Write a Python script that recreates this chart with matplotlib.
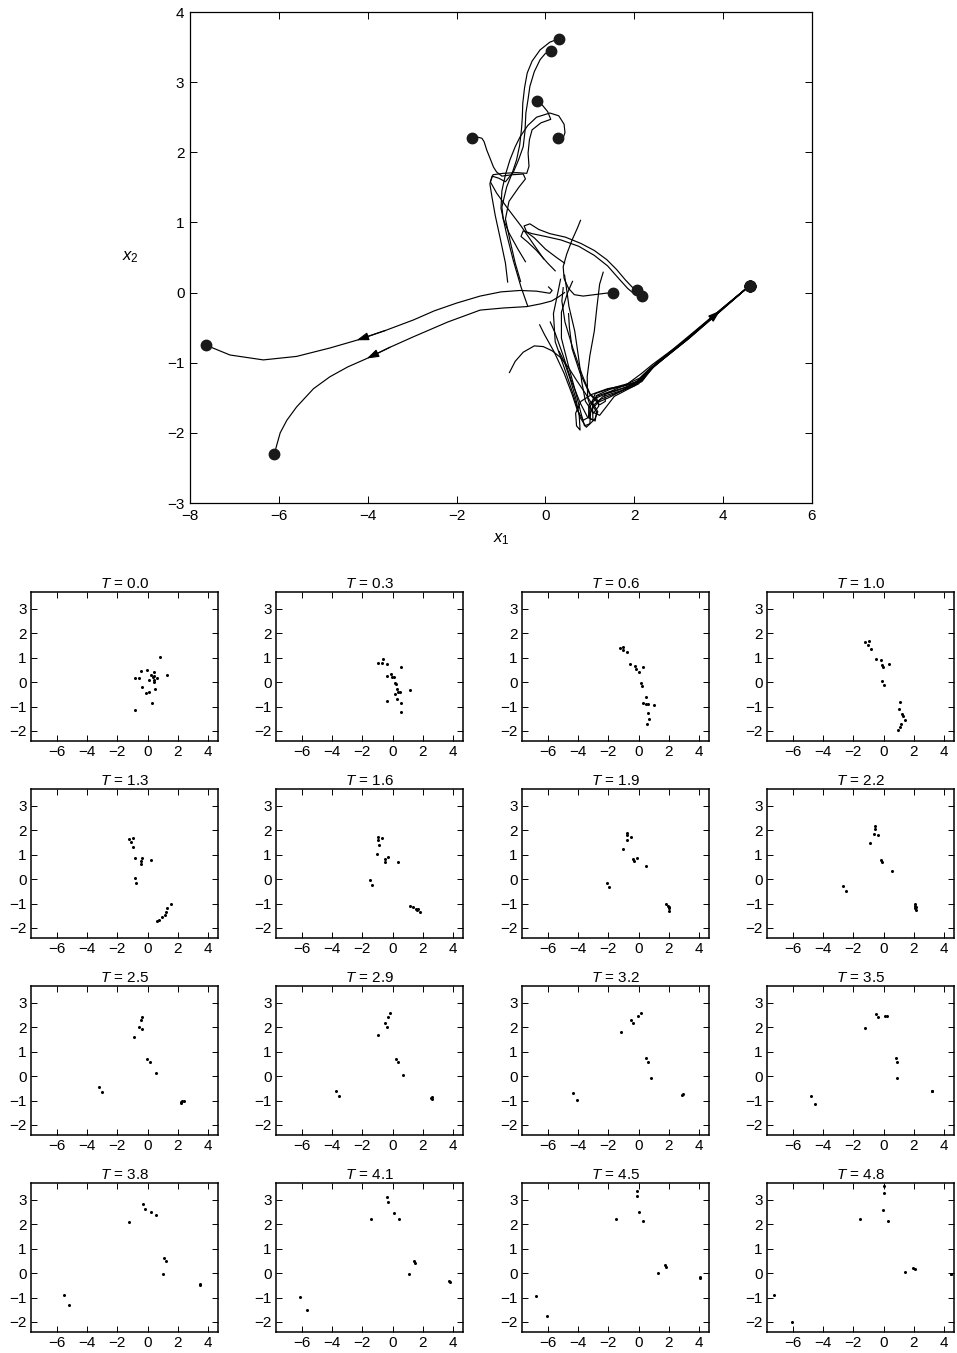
import matplotlib
matplotlib.use("Agg")
import matplotlib.pyplot as plt

plt.rcParams['font.family'] = ['Liberation Sans', 'DejaVu Sans']
plt.rcParams['mathtext.fontset'] = 'custom'
plt.rcParams['mathtext.rm'] = 'Liberation Sans'
plt.rcParams['mathtext.it'] = 'Liberation Sans:italic'

# ---- trajectories of the 20 particles (top plot), start -> end ----
path_left_a = [(0.07, 0.08), (0.15, 0.03), (0.1, -0.01), (-0.2, 0.02), (-0.57, 0.03), (-1.0, 0.01),
               (-1.47, -0.05), (-2.0, -0.15), (-2.5, -0.26), (-2.97, -0.39), (-3.6, -0.54), (-4.25, -0.68),
               (-4.85, -0.79), (-5.6, -0.91), (-6.35, -0.96), (-7.1, -0.89), (-7.64, -0.75)]
path_left_b = [(0.43, 0.0), (0.3, -0.06), (0.14, -0.12), (-0.1, -0.16), (-0.42, -0.2), (-0.95, -0.22),
               (-1.47, -0.25), (-2.2, -0.42), (-2.97, -0.63), (-3.5, -0.78), (-4.02, -0.94), (-4.45, -1.06),
               (-4.85, -1.2), (-5.22, -1.37), (-5.6, -1.63), (-5.82, -1.82), (-5.97, -2.0), (-6.05, -2.18),
               (-6.1, -2.3)]
path_up_a = [(-0.45, 0.44), (-0.62, 0.62), (-0.82, 0.85), (-0.95, 1.05), (-0.98, 1.22), (-0.92, 1.38),
             (-0.87, 1.51), (-0.75, 1.7), (-0.65, 1.89), (-0.58, 2.1), (-0.54, 2.32), (-0.52, 2.5),
             (-0.51, 2.7), (-0.47, 2.92), (-0.41, 3.13), (-0.3, 3.3), (-0.12, 3.46), (0.1, 3.57), (0.31, 3.62)]
path_up_b = [(-0.85, 0.15), (-0.9, 0.42), (-1.02, 0.78), (-1.13, 1.1), (-1.2, 1.35), (-1.25, 1.55),
             (-1.2, 1.66), (-1.05, 1.63), (-0.9, 1.58), (-0.72, 1.72), (-0.6, 1.9), (-0.5, 2.08),
             (-0.46, 2.3), (-0.44, 2.56), (-0.39, 2.76), (-0.35, 2.94), (-0.25, 3.15), (-0.12, 3.32),
             (0.0, 3.41), (0.13, 3.45)]
path_up_c = [(-0.04, 0.48), (-0.28, 0.7), (-0.55, 0.95), (-0.85, 1.2), (-1.1, 1.42), (-1.24, 1.58),
             (-1.18, 1.68), (-0.95, 1.7), (-0.65, 1.71), (-0.42, 1.7), (-0.37, 1.8), (-0.39, 1.99),
             (-0.36, 2.18), (-0.3, 2.32), (-0.1, 2.42), (0.12, 2.47), (0.05, 2.58), (-0.08, 2.68), (-0.2, 2.73)]
path_up_d = [(-0.4, -0.19), (-0.55, 0.08), (-0.72, 0.45), (-0.88, 0.85), (-1.0, 1.2), (-0.98, 1.45),
             (-0.9, 1.68), (-0.8, 1.89), (-0.68, 2.08), (-0.57, 2.22), (-0.4, 2.38), (-0.2, 2.5),
             (0.1, 2.56), (0.3, 2.52), (0.42, 2.4), (0.44, 2.28), (0.38, 2.17), (0.28, 2.21)]
path_up_e = [(-0.56, 0.16), (-0.68, 0.42), (-0.8, 0.75), (-0.9, 1.05), (-0.82, 1.3), (-0.6, 1.5),
             (-0.45, 1.62), (-0.5, 1.69), (-0.75, 1.68), (-0.98, 1.66), (-1.1, 1.72), (-1.17, 1.79),
             (-1.25, 1.92), (-1.32, 2.03), (-1.38, 2.15), (-1.43, 2.2), (-1.55, 2.22), (-1.66, 2.21)]
path_mid_a = [(0.79, 1.03), (0.72, 0.92), (0.6, 0.75), (0.48, 0.55), (0.4, 0.37), (0.42, 0.2), (0.52, 0.06),
              (0.65, -0.03), (0.85, -0.05), (1.1, -0.03), (1.35, -0.01), (1.53, 0.0)]
path_mid_b = [(0.43, 0.42), (0.25, 0.5), (0.0, 0.62), (-0.25, 0.78), (-0.42, 0.86), (-0.48, 0.95),
              (-0.35, 0.98), (-0.15, 0.9), (0.1, 0.84), (0.45, 0.79), (0.8, 0.7), (1.1, 0.6), (1.38, 0.47),
              (1.6, 0.33), (1.8, 0.18), (1.95, 0.08), (2.05, 0.04)]
path_mid_c = [(0.22, 0.31), (0.05, 0.42), (-0.2, 0.6), (-0.4, 0.72), (-0.55, 0.8), (-0.5, 0.88),
              (-0.3, 0.84), (0.0, 0.8), (0.35, 0.75), (0.75, 0.66), (1.1, 0.53), (1.4, 0.38), (1.65, 0.2),
              (1.85, 0.06), (2.0, -0.02), (2.17, -0.05)]
path_low_a = [(-0.81, -1.14), (-0.68, -0.98), (-0.5, -0.85), (-0.25, -0.76), (-0.05, -0.77), (0.15, -0.83),
              (0.33, -0.92), (0.52, -1.07), (0.7, -1.25), (0.88, -1.42), (1.02, -1.56), (1.15, -1.7),
              (1.12, -1.83), (1.0, -1.8), (0.98, -1.64), (1.15, -1.5), (1.45, -1.42), (1.8, -1.35),
              (2.05, -1.28), (2.2, -1.2), (2.5, -1.02), (3.2, -0.67), (3.93, -0.27), (4.6, 0.1)]
path_low_b = [(0.31, -0.84), (0.42, -0.98), (0.55, -1.22), (0.68, -1.5), (0.76, -1.75), (0.78, -1.96),
              (0.7, -1.9), (0.68, -1.72), (0.8, -1.55), (1.05, -1.45), (1.4, -1.37), (1.75, -1.33),
              (2.05, -1.27), (2.18, -1.22), (2.45, -1.05), (3.2, -0.66), (3.93, -0.26), (4.6, 0.1)]
path_low_c = [(-0.13, -0.46), (-0.02, -0.6), (0.2, -0.85), (0.42, -1.15), (0.6, -1.45), (0.72, -1.68),
              (0.85, -1.82), (0.97, -1.78), (0.98, -1.6), (1.15, -1.48), (1.5, -1.4), (1.85, -1.3),
              (2.12, -1.22), (2.35, -1.08), (3.0, -0.76), (3.93, -0.26), (4.6, 0.1)]
path_low_d = [(0.11, -0.42), (0.22, -0.58), (0.4, -0.9), (0.58, -1.25), (0.78, -1.57), (0.95, -1.78),
              (1.1, -1.82), (1.18, -1.7), (1.05, -1.56), (1.12, -1.44), (1.45, -1.37), (1.85, -1.3),
              (2.15, -1.16), (2.4, -1.03), (3.1, -0.7), (3.93, -0.25), (4.6, 0.1)]
path_low_e = [(0.52, -0.3), (0.54, -0.5), (0.6, -0.8), (0.78, -1.15), (1.0, -1.45), (1.22, -1.6),
              (1.35, -1.55), (1.33, -1.45), (1.6, -1.4), (1.9, -1.33), (2.17, -1.27), (2.5, -1.0),
              (3.2, -0.66), (3.93, -0.26), (4.6, 0.1)]
path_low_f = [(1.3, 0.29), (1.22, 0.12), (1.16, -0.2), (1.1, -0.55), (1.0, -0.9), (0.94, -1.2), (0.95, -1.5),
              (1.05, -1.7), (1.22, -1.75), (1.38, -1.62), (1.55, -1.48), (1.85, -1.38), (2.1, -1.3),
              (2.3, -1.12), (3.0, -0.74), (3.93, -0.25), (4.6, 0.1)]
path_low_g = [(0.61, 0.16), (0.5, 0.0), (0.36, -0.28), (0.36, -0.65), (0.52, -1.05), (0.68, -1.42),
              (0.8, -1.72), (0.88, -1.9), (1.0, -1.87), (1.02, -1.68), (1.25, -1.52), (1.65, -1.42),
              (2.0, -1.33), (2.17, -1.25), (2.45, -1.05), (3.2, -0.67), (3.93, -0.27), (4.6, 0.1)]
path_low_h = [(0.34, 0.19), (0.28, 0.0), (0.18, -0.3), (0.22, -0.7), (0.45, -1.12), (0.64, -1.48),
              (0.78, -1.78), (0.92, -1.92), (1.07, -1.83), (1.06, -1.62), (1.3, -1.48), (1.7, -1.4),
              (2.05, -1.3), (2.2, -1.18), (2.6, -0.97), (3.3, -0.61), (3.93, -0.26), (4.6, 0.1)]
path_low_i = [(0.4, 0.07), (0.37, -0.12), (0.44, -0.42), (0.62, -0.8), (0.83, -1.18), (1.0, -1.44),
              (1.2, -1.56), (1.42, -1.5), (1.72, -1.4), (2.0, -1.29), (2.18, -1.2), (2.5, -1.0),
              (3.2, -0.66), (3.93, -0.26), (4.6, 0.1)]
path_low_j = [(0.43, 0.25), (0.47, 0.08), (0.53, -0.2), (0.66, -0.55), (0.74, -0.9), (0.82, -1.28),
              (0.9, -1.55), (1.08, -1.72), (1.2, -1.62), (1.14, -1.47), (1.45, -1.38), (1.85, -1.32),
              (2.17, -1.25), (2.4, -1.08), (3.1, -0.71), (3.93, -0.26), (4.6, 0.1)]

# (path, index of arrow head) for the arrows on the curves
arrow_heads = [("left_a", 11), ("left_b", 10), ("low_e", 13)]

# ---- snapshots (small panels) ----
snap_times = [0.0, 0.3, 0.6, 1.0, 1.3, 1.6, 1.9, 2.2, 2.5, 2.9, 3.2, 3.5, 3.8, 4.1, 4.5, 4.8]

snap_00 = [(0.79, 1.03), (-0.45, 0.44), (-0.04, 0.48), (0.43, 0.42), (0.22, 0.31), (0.43, 0.25), (0.34, 0.19),
           (0.61, 0.16), (1.3, 0.29), (-0.85, 0.15), (-0.56, 0.16), (0.07, 0.08), (0.4, 0.07), (0.43, 0.0),
           (-0.4, -0.19), (0.52, -0.3), (0.11, -0.42), (-0.13, -0.46), (0.31, -0.84), (-0.81, -1.14)]
snap_03 = [(-0.94, 0.8), (-0.65, 0.95), (-0.67, 0.78), (-0.38, 0.75), (0.58, 0.64), (-0.13, 0.35), (-0.04, 0.22),
           (0.11, 0.22), (-0.38, 0.27), (0.13, -0.03), (0.2, -0.07), (0.31, -0.27), (0.38, -0.4), (0.18, -0.48),
           (0.47, -0.42), (1.15, -0.31), (0.29, -0.68), (-0.36, -0.78), (0.58, -0.87), (0.56, -1.21)]
snap_06 = [(-1.21, 1.38), (-1.01, 1.44), (-1.06, 1.3), (-0.76, 1.23), (-0.54, 0.74), (-0.27, 0.65), (-0.2, 0.52),
           (0.0, 0.41), (0.31, 0.63), (0.16, -0.05), (0.22, -0.14), (0.49, -0.61), (0.27, -0.87), (0.52, -0.89),
           (0.63, -0.91), (1.01, -0.95), (0.65, -1.25), (0.72, -1.5), (0.58, -1.7)]
snap_10 = [(-1.2, 1.63), (-0.97, 1.7), (-1.06, 1.53), (-0.81, 1.36), (-0.52, 0.93), (-0.18, 0.89), (-0.13, 0.72),
           (-0.07, 0.61), (0.34, 0.76), (-0.11, 0.04), (0.0, -0.11), (1.06, -0.82), (1.01, -1.09), (1.19, -1.29),
           (1.26, -1.38), (1.42, -1.55), (1.17, -1.72), (1.11, -1.84), (0.92, -1.96)]
snap_13 = [(-1.21, 1.66), (-0.94, 1.68), (-1.12, 1.52), (-0.99, 1.33), (-0.85, 0.88), (-0.38, 0.88), (-0.43, 0.75),
           (-0.43, 0.61), (0.2, 0.8), (-0.85, 0.03), (-0.74, -0.16), (1.57, -1.03), (1.3, -1.2), (1.19, -1.36),
           (1.12, -1.47), (0.92, -1.56), (0.74, -1.66), (0.65, -1.7)]
snap_16 = [(-0.97, 1.73), (-0.7, 1.68), (-0.97, 1.6), (-0.92, 1.41), (-1.06, 1.02), (-0.31, 0.92), (-0.49, 0.82),
           (-0.49, 0.69), (0.34, 0.72), (-1.51, -0.03), (-1.35, -0.22), (1.17, -1.11), (1.35, -1.14), (1.53, -1.22),
           (1.69, -1.24), (1.84, -1.33), (1.62, -1.27)]
snap_19 = [(-0.79, 1.9), (-0.76, 1.81), (-0.79, 1.6), (-0.47, 1.71), (-1.03, 1.25), (-0.38, 0.82), (-0.09, 0.87),
           (-0.29, 0.75), (0.47, 0.54), (-2.11, -0.16), (-1.93, -0.34), (1.8, -1.02), (1.93, -1.09), (2.0, -1.2),
           (2.04, -1.29), (1.98, -1.14)]
snap_22 = [(-0.6, 2.17), (-0.6, 2.07), (-0.62, 1.83), (-0.38, 1.81), (-0.92, 1.47), (-0.2, 0.77), (-0.08, 0.72),
           (0.55, 0.35), (-2.65, -0.29), (-2.47, -0.48), (2.1, -1.0), (2.1, -1.1), (2.1, -1.2), (2.12, -1.27),
           (2.11, -1.15)]
snap_25 = [(-0.39, 2.43), (-0.42, 2.29), (-0.57, 2.02), (-0.37, 1.91), (-0.9, 1.61), (-0.04, 0.69), (0.18, 0.59),
           (0.57, 0.14), (-3.22, -0.45), (-3.04, -0.66), (2.19, -1.07), (2.3, -1.03), (2.41, -1.0), (2.23, -1.1)]
snap_29 = [(-0.18, 2.57), (-0.28, 2.44), (-0.5, 2.17), (-0.35, 2.02), (-0.98, 1.69), (0.2, 0.69), (0.37, 0.59),
           (0.7, 0.03), (-3.74, -0.59), (-3.54, -0.83), (2.6, -0.87), (2.63, -0.94), (2.56, -0.9)]
snap_32 = [(-0.5, 2.3), (-0.37, 2.16), (-0.02, 2.48), (0.15, 2.57), (-1.14, 1.82), (0.46, 0.73), (0.61, 0.58),
           (0.79, -0.06), (-4.31, -0.7), (-4.09, -0.99), (2.89, -0.76), (2.91, -0.73)]
snap_35 = [(-0.48, 2.54), (-0.37, 2.41), (0.07, 2.48), (0.24, 2.48), (-1.25, 1.99), (0.79, 0.73), (0.9, 0.59),
           (0.88, -0.07), (-4.8, -0.83), (-4.55, -1.15), (3.19, -0.59), (3.22, -0.6)]
snap_38 = [(-0.33, 2.84), (-0.2, 2.63), (0.2, 2.49), (0.53, 2.36), (-1.22, 2.11), (1.1, 0.62), (1.2, 0.51),
           (1.0, -0.04), (-5.55, -0.9), (-5.2, -1.32), (3.45, -0.45), (3.47, -0.48)]
snap_41 = [(-0.35, 3.1), (-0.3, 2.9), (0.1, 2.47), (0.4, 2.2), (-1.4, 2.2), (1.4, 0.5), (1.47, 0.42),
           (1.1, -0.03), (-6.1, -0.97), (-5.65, -1.52), (3.75, -0.32), (3.77, -0.35)]
snap_45 = [(-0.1, 3.35), (-0.1, 3.15), (0.05, 2.5), (0.3, 2.15), (-1.5, 2.2), (1.75, 0.33), (1.8, 0.27),
           (1.25, 0.0), (-6.75, -0.95), (-6.05, -1.75), (4.05, -0.17), (4.07, -0.2)]
snap_48 = [(0.05, 3.55), (0.0, 3.3), (-0.05, 2.6), (0.3, 2.15), (-1.55, 2.2), (1.95, 0.2), (2.05, 0.15),
           (1.4, 0.03), (-7.25, -0.88), (-6.05, -2.0), (4.45, -0.02), (4.48, -0.05)]

paths = {
    "left_a": path_left_a, "left_b": path_left_b,
    "up_a": path_up_a, "up_b": path_up_b, "up_c": path_up_c, "up_d": path_up_d, "up_e": path_up_e,
    "mid_a": path_mid_a, "mid_b": path_mid_b, "mid_c": path_mid_c,
    "low_a": path_low_a, "low_b": path_low_b, "low_c": path_low_c, "low_d": path_low_d, "low_e": path_low_e,
    "low_f": path_low_f, "low_g": path_low_g, "low_h": path_low_h, "low_i": path_low_i, "low_j": path_low_j,
}
snaps = [snap_00, snap_03, snap_06, snap_10, snap_13, snap_16, snap_19, snap_22,
         snap_25, snap_29, snap_32, snap_35, snap_38, snap_41, snap_45, snap_48]

W, H = 957, 1353
fig = plt.figure(figsize=(W / 100, H / 100), dpi=100)


def box(l, t, r, b):
    return [l / W, 1 - b / H, (r - l) / W, (b - t) / H]


def style_ticks(ax, size):
    ax.tick_params(direction='in', top=True, right=True, length=4, width=0.7,
                   labelsize=size, pad=4)


# top plot
ax = fig.add_axes(box(190, 12, 812, 503))
for name, p in paths.items():
    xs = [v[0] for v in p]
    ys = [v[1] for v in p]
    ax.plot(xs, ys, color='k', lw=0.85, solid_joinstyle='round')
for name, p in paths.items():
    ax.plot(p[-1][0], p[-1][1], 'o', color='#1a1a1a', ms=7.5, zorder=5)
for name, idx in arrow_heads:
    p = paths[name]
    ax.annotate('', xy=p[idx], xytext=p[idx - 1],
                arrowprops=dict(arrowstyle='-|>,head_length=0.6,head_width=0.2', color='k',
                                lw=0.85, shrinkA=0, shrinkB=0, mutation_scale=12))
ax.set_xlim(-8, 6)
ax.set_ylim(-3, 4)
ax.set_xticks(range(-8, 7, 2))
ax.set_yticks(range(-3, 5))
style_ticks(ax, 11)
ax.tick_params(length=5)
for s in ax.spines.values():
    s.set_linewidth(0.9)
ax.set_xlabel(r'$x_1$', fontsize=12, labelpad=6)
ax.set_ylabel(r'$x_2$', fontsize=12, rotation=0, labelpad=26, va='center')

# small panels
col_left = [31, 276, 522, 767]
row_top = [592, 789, 986, 1183]
pw, ph = 187, 149
for k, (t, pts) in enumerate(zip(snap_times, snaps)):
    r, c = divmod(k, 4)
    a = fig.add_axes(box(col_left[c], row_top[r], col_left[c] + pw, row_top[r] + ph))
    a.plot([v[0] for v in pts], [v[1] for v in pts], 'o', color='k', ms=2.2, mew=0)
    a.set_xlim(-7.7, 4.65)
    a.set_ylim(-2.41, 3.69)
    a.set_xticks([-6, -4, -2, 0, 2, 4])
    a.set_yticks([-2, -1, 0, 1, 2, 3])
    style_ticks(a, 11)
    a.tick_params(pad=3)
    for s in a.spines.values():
        s.set_linewidth(1.1)
    a.set_title(r'$T$ = %.1f' % t, fontsize=11, pad=3)

fig.savefig('out.png', dpi=100)
